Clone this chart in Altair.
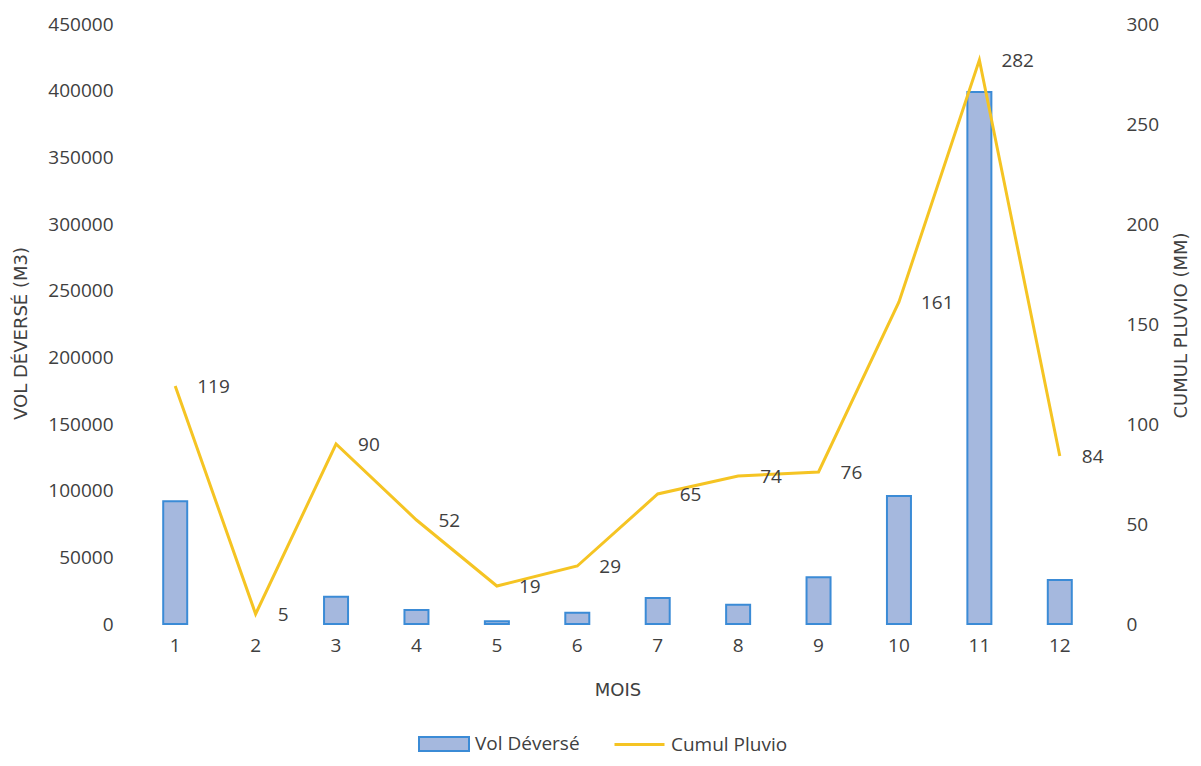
import altair as alt
import pandas as pd

# ---- data ----
months = [1, 2, 3, 4, 5, 6, 7, 8, 9, 10, 11, 12]
vol_deverse = [92000, 0, 20500, 10500, 2000, 8500, 19500, 14500, 35000, 96000, 399000, 33000]
cumul_pluvio = [119, 5, 90, 52, 19, 29, 65, 74, 76, 161, 282, 84]
left_ticks = [0, 50000, 100000, 150000, 200000, 250000, 300000, 350000, 400000, 450000]
right_ticks = [0, 50, 100, 150, 200, 250, 300]

df = pd.DataFrame({
    "Mois": months,
    "Vol": vol_deverse,
    "Pluvio": cumul_pluvio,
    "bar_serie": ["Vol Déversé"] * len(months),
    "line_serie": ["Cumul Pluvio"] * len(months),
})

TXT = "#404040"
FONT = "Open Sans"
TFONT = "DejaVu Sans"

x_enc = alt.X(
    "Mois:O",
    scale=alt.Scale(paddingInner=0, paddingOuter=0),
    axis=alt.Axis(title="MOIS", labelAngle=0, labelPadding=12, titleY=66,
                  titleBaseline="middle"),
)

bars = alt.Chart(df).transform_filter("datum.Vol > 0").mark_bar(
    size=24, stroke="#3b8bd6", strokeWidth=2
).encode(
    x=x_enc,
    y=alt.Y("Vol:Q", scale=alt.Scale(domain=[0, 450000], nice=False),
            axis=alt.Axis(title="VOL DÉVERSÉ (M3)", values=left_ticks, format="d",
                          labelPadding=22, titleAngle=270, titleX=-114, titleY=309,
                          titleAlign="center", titleBaseline="middle")),
    fill=alt.Fill("bar_serie:N",
                  scale=alt.Scale(domain=["Vol Déversé"], range=["#a5b8de"]),
                  legend=alt.Legend(title=None, orient="none", legendX=283, legendY=694,
                                    symbolType="M-1,-0.28H1V0.28H-1Z", symbolSize=2500,
                                    symbolStrokeColor="#3b8bd6", symbolStrokeWidth=2,
                                    symbolFillColor="#a5b8de", labelOffset=5)),
)

y_right = alt.Y("Pluvio:Q", scale=alt.Scale(domain=[0, 300], nice=False),
                axis=alt.Axis(title="CUMUL PLUVIO (MM)", values=right_ticks, format="d",
                              orient="right", labelPadding=26, titleAngle=270,
                              titleX=81, titleY=301, titleAlign="center",
                              titleBaseline="middle"))

line = alt.Chart(df).mark_line(strokeWidth=3).encode(
    x=x_enc,
    y=y_right,
    stroke=alt.Stroke("line_serie:N",
                      scale=alt.Scale(domain=["Cumul Pluvio"], range=["#f5c423"]),
                      legend=alt.Legend(title=None, orient="none", legendX=478, legendY=694,
                                        symbolType="stroke", symbolSize=2500,
                                        symbolStrokeWidth=3, labelOffset=5)),
)

labels = alt.Chart(df).mark_text(align="left", baseline="middle", dx=22, dy=1,
                                 font=FONT, fontSize=19, color=TXT).encode(
    x=x_enc,
    y=y_right,
    text=alt.Text("Pluvio:Q", format="d"),
)

right_layer = alt.layer(line, labels)

chart = alt.layer(bars, right_layer).resolve_scale(
    y="independent", fill="independent", stroke="independent"
).properties(
    width=965, height=600,
    autosize=alt.AutoSizeParams(type="none"),
    padding={"left": 127, "top": 16, "right": 93, "bottom": 133},
).configure_view(stroke=None).configure_axis(
    domain=False, ticks=False, tickSize=0, grid=False,
    labelFont=FONT, labelFontSize=19, labelColor=TXT,
    titleFont=TFONT, titleFontSize=18, titleFontWeight="normal", titleColor=TXT,
).configure_legend(
    labelFont=FONT, labelFontSize=19, labelColor=TXT, direction="horizontal",
)

chart.save("out.html", embed_options={"renderer": "svg", "actions": False})
